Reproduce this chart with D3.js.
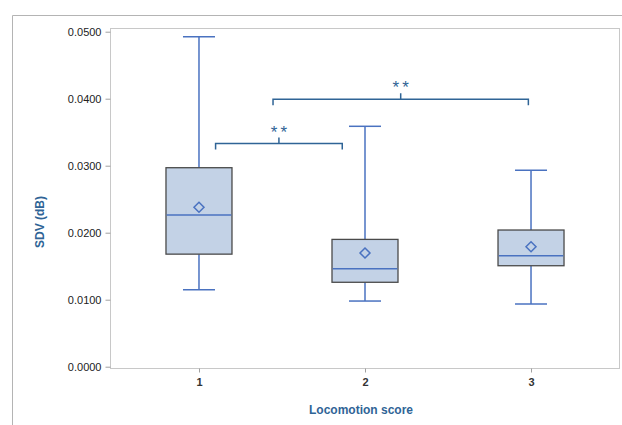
<!DOCTYPE html>
<html>
<head>
<meta charset="utf-8">
<script src="https://cdn.jsdelivr.net/npm/d3@7"></script>
<style>
  html, body { margin: 0; padding: 0; background: #fff; }
  svg { display: block; }
</style>
</head>
<body>
<svg id="chart" width="622" height="425"></svg>
<script>
// ---- data ----
const categories = ["1", "2", "3"];
const whiskerMin = [0.01150, 0.00980, 0.00935];
const q1Values   = [0.01680, 0.01260, 0.01507];
const medians    = [0.02265, 0.01463, 0.01657];
const q3Values   = [0.02970, 0.01900, 0.02040];
const whiskerMax = [0.04925, 0.03588, 0.02931];
const means      = [0.02380, 0.01697, 0.01791];
const yTicks     = [0, 0.01, 0.02, 0.03, 0.04, 0.05];
// significance brackets: from/to in category units (1 = first category), level in data units
const bracketFrom  = [1.10, 1.446];
const bracketTo    = [1.863, 2.984];
const bracketLevel = [0.0333, 0.0399];
const bracketLabel = ["**", "**"];
const yTitle = "SDV (dB)";
const xTitle = "Locomotion score";

// ---- layout ----
const svg = d3.select("#chart");
const plot = { left: 110, top: 28, right: 620, bottom: 368 };

const x = d3.scalePoint().domain(categories).range([plot.left, plot.right]).padding(0.536);
const y = d3.scaleLinear().domain([0, 0.05]).range([366.7, 31.7]);
const step = x.step();
const xc = v => x(categories[0]) + (v - 1) * step;

const blue = "#4a72c0";
const dark = "#2f6496";
const font = "Arial, 'Liberation Sans', sans-serif";

// outer frame
svg.append("line").attr("x1", 12.5).attr("x2", 622).attr("y1", 15.5).attr("y2", 15.5)
  .attr("stroke", "#b4b4b4").attr("stroke-width", 1);
svg.append("line").attr("x1", 12.5).attr("x2", 12.5).attr("y1", 15.5).attr("y2", 425)
  .attr("stroke", "#b4b4b4").attr("stroke-width", 1);

// plot area border
svg.append("rect").attr("x", plot.left + 0.5).attr("y", plot.top + 0.5)
  .attr("width", plot.right - plot.left - 1).attr("height", plot.bottom - plot.top)
  .attr("fill", "none").attr("stroke", "#c8c8c8").attr("stroke-width", 1);

// y axis
const yAxis = d3.axisLeft(y).tickValues(yTicks).tickFormat(d3.format(".4f")).tickSize(5).tickPadding(4);
const gy = svg.append("g").attr("transform", `translate(${plot.left + 0.5},0)`).call(yAxis);
gy.select(".domain").remove();
gy.selectAll(".tick line").attr("stroke", "#a0a0a0");
gy.selectAll(".tick text").attr("fill", "#222").style("font-family", font)
  .style("font-size", "11px").style("font-weight", "500");

// x axis
const xAxis = d3.axisBottom(x).tickSize(4).tickPadding(6);
const gx = svg.append("g").attr("transform", `translate(0,${plot.bottom + 0.5})`).call(xAxis);
gx.select(".domain").remove();
gx.selectAll(".tick line").attr("stroke", "#a0a0a0");
gx.selectAll(".tick text").attr("fill", "#333").style("font-family", font)
  .style("font-size", "11px").style("font-weight", "bold");

// titles
svg.append("text").attr("transform", "translate(44,222) rotate(-90)")
  .attr("text-anchor", "middle").attr("fill", dark)
  .style("font-family", font).style("font-size", "12px").style("font-weight", "bold")
  .text(yTitle);
svg.append("text").attr("x", 361).attr("y", 414)
  .attr("text-anchor", "middle").attr("fill", dark)
  .style("font-family", font).style("font-size", "12px").style("font-weight", "bold")
  .text(xTitle);

// boxes
const boxW = 66, capW = 32;
const data = categories.map((c, i) => ({
  c, min: whiskerMin[i], q1: q1Values[i], med: medians[i], q3: q3Values[i], max: whiskerMax[i], mean: means[i]
}));
const g = svg.append("g");
data.forEach(d => {
  const cx = x(d.c);
  // whiskers
  g.append("line").attr("x1", cx).attr("x2", cx).attr("y1", y(d.max)).attr("y2", y(d.q3)).attr("stroke", blue).attr("stroke-width", 1.5);
  g.append("line").attr("x1", cx).attr("x2", cx).attr("y1", y(d.q1)).attr("y2", y(d.min)).attr("stroke", blue).attr("stroke-width", 1.5);
  g.append("line").attr("x1", cx - capW / 2).attr("x2", cx + capW / 2).attr("y1", y(d.max)).attr("y2", y(d.max)).attr("stroke", blue).attr("stroke-width", 1.5);
  g.append("line").attr("x1", cx - capW / 2).attr("x2", cx + capW / 2).attr("y1", y(d.min)).attr("y2", y(d.min)).attr("stroke", blue).attr("stroke-width", 1.5);
  // box
  g.append("rect").attr("x", cx - boxW / 2).attr("y", y(d.q3)).attr("width", boxW).attr("height", y(d.q1) - y(d.q3))
    .attr("fill", "#c3d2e6").attr("stroke", "#4a4a4a").attr("stroke-width", 1.3);
  // median
  g.append("line").attr("x1", cx - boxW / 2 + 0.7).attr("x2", cx + boxW / 2 - 0.7).attr("y1", y(d.med)).attr("y2", y(d.med))
    .attr("stroke", blue).attr("stroke-width", 1.5);
  // mean diamond
  const r = 5;
  const my = y(d.mean);
  g.append("path").attr("d", `M${cx},${my - r}L${cx + r},${my}L${cx},${my + r}L${cx - r},${my}Z`)
    .attr("fill", "none").attr("stroke", blue).attr("stroke-width", 1.5);
});

// significance brackets
bracketFrom.forEach((f, i) => {
  const x1 = xc(f), x2 = xc(bracketTo[i]), yy = y(bracketLevel[i]);
  const mid = (x1 + x2) / 2;
  svg.append("path").attr("d", `M${x1},${yy + 6}V${yy}H${x2}V${yy + 6}M${mid},${yy}V${yy - 6}`)
    .attr("fill", "none").attr("stroke", dark).attr("stroke-width", 1.5);
  svg.append("text").attr("x", mid + 1.5).attr("y", yy - 6).attr("text-anchor", "middle").attr("fill", dark)
    .style("font-family", font).style("font-size", "17px")
    .style("letter-spacing", "3px")
    .text(bracketLabel[i]);
});
</script>
</body>
</html>
